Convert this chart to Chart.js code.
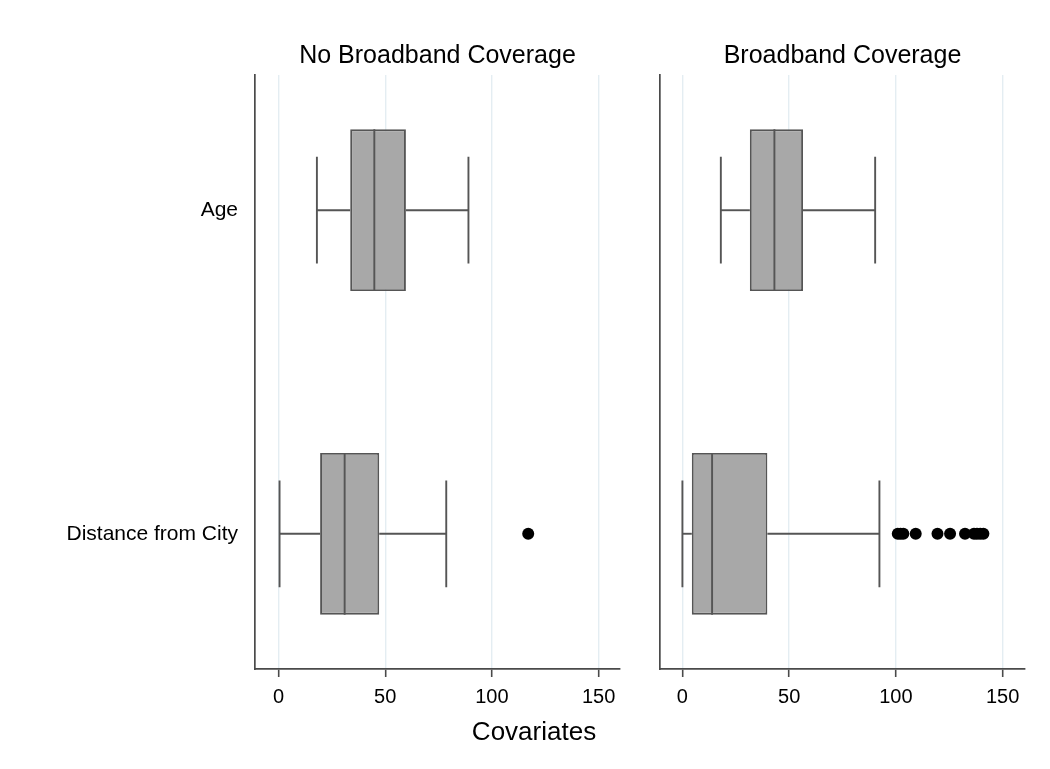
<!DOCTYPE html>
<html>
<head>
<meta charset="utf-8">
<script src="https://cdn.jsdelivr.net/npm/chart.js@4.4.1/dist/chart.umd.min.js"></script>
<style>
    html, body { margin: 0; padding: 0; background: #fff; }
    #wrap { position: relative; width: 1050px; height: 769px; overflow: hidden; }
    #leftBox { position: absolute; left: 0; top: 0; width: 630px; height: 769px; }
    #rightBox { position: absolute; left: 630px; top: 0; width: 420px; height: 769px; }
    #xTitle {
        position: absolute; left: 434px; width: 200px; top: 716px;
        text-align: center; line-height: 30px; color: #000;
        font: 26px 'Liberation Sans', Arial, sans-serif;
    }
</style>
</head>
<body>
<div id="wrap">
    <div id="leftBox"><canvas id="leftChart"></canvas></div>
    <div id="rightBox"><canvas id="rightChart"></canvas></div>
    <div id="xTitle">Covariates</div>
</div>
<script>
const FONT = "'Liberation Sans', Arial, sans-serif";
const LINE_COLOR = '#555555';
const AXIS_COLOR = '#4a4a4a';

// Categories and panels
const categories = ['Age', 'Distance from City'];
const xTicks = [0, 50, 100, 150];

// No Broadband Coverage
const noBbMin = [18, 0.5];
const noBbQ1 = [33.6, 19.5];
const noBbMedian = [44.9, 31];
const noBbQ3 = [59.7, 47.2];
const noBbMax = [89, 78.6];
const noBbOutliers = [[], [117]];

// Broadband Coverage
const bbMin = [18, 0];
const bbQ1 = [31.6, 4.4];
const bbMedian = [43.1, 13.9];
const bbQ3 = [56.5, 39.8];
const bbMax = [90.3, 92.3];
const bbOutliers = [[], [100.9, 102.2, 103.5, 109.3, 119.5, 125.4, 132.4, 136.6, 138, 139.5, 141]];

// One straight segment, drawn as a line dataset
function segment(x1, y1, x2, y2) {
    return {
        type: 'line',
        data: [{ x: x1, y: y1 }, { x: x2, y: y2 }],
        borderColor: LINE_COLOR,
        borderWidth: 1.9,
        pointRadius: 0,
        fill: false,
        order: 1,
    };
}

function makePanel(canvasId, title, mins, q1s, medians, q3s, maxs, outliers, xMin, xMax, showLabels, yWidth, padRight) {
    const datasets = [];

    // Boxes (q1 -> q3)
    datasets.push({
        type: 'bar',
        indexAxis: 'y',
        data: categories.map((c, i) => ({ x: [q1s[i], q3s[i]], y: i })),
        backgroundColor: '#a8a8a8',
        borderColor: LINE_COLOR,
        borderWidth: 1.9,
        borderSkipped: false,
        categoryPercentage: 1,
        barPercentage: 0.5,
        order: 3,
    });

    // Whiskers, caps and medians
    categories.forEach((c, i) => {
        datasets.push(segment(mins[i], i, q1s[i], i));
        datasets.push(segment(q3s[i], i, maxs[i], i));
        datasets.push(segment(mins[i], i - 0.165, mins[i], i + 0.165));
        datasets.push(segment(maxs[i], i - 0.165, maxs[i], i + 0.165));
        datasets.push(segment(medians[i], i - 0.25, medians[i], i + 0.25));
    });

    // Outside values
    datasets.push({
        type: 'scatter',
        data: outliers.flatMap((vals, i) => vals.map(v => ({ x: v, y: i }))),
        backgroundColor: '#000',
        borderWidth: 0,
        pointRadius: 6,
        order: 0,
    });

    const ctx = document.getElementById(canvasId).getContext('2d');
    new Chart(ctx, {
        type: 'bar',
        data: { datasets: datasets },
        options: {
            responsive: true,
            maintainAspectRatio: false,
            animation: false,
            layout: { padding: { left: 0, right: padRight, top: 0, bottom: 0 } },
            plugins: {
                legend: { display: false },
                tooltip: { enabled: false },
                title: {
                    display: true,
                    text: title,
                    fullSize: false,
                    color: '#000',
                    font: { size: 25, family: FONT, weight: 'normal', lineHeight: 1.2 },
                    padding: { top: 41, bottom: 4 },
                },
            },
            scales: {
                x: {
                    type: 'linear',
                    offset: false,
                    min: xMin,
                    max: xMax,
                    afterBuildTicks: s => { s.ticks = xTicks.map(v => ({ value: v })); },
                    afterFit: s => { s.height = 100; },
                    ticks: {
                        color: '#000',
                        font: { size: 20, family: FONT },
                        padding: 8,
                        maxRotation: 0,
                    },
                    grid: {
                        offset: false,
                        color: '#e4edf2',
                        lineWidth: 1.4,
                        tickLength: 8,
                        tickColor: AXIS_COLOR,
                        tickWidth: 1.6,
                    },
                    border: { color: AXIS_COLOR, width: 1.7 },
                },
                y: {
                    type: 'linear',
                    offset: false,
                    reverse: true,
                    min: -0.418,
                    max: 1.418,
                    afterBuildTicks: s => { s.ticks = categories.map((c, i) => ({ value: i })); },
                    afterFit: s => { s.width = yWidth; },
                    ticks: {
                        display: showLabels,
                        color: '#000',
                        font: { size: 21, family: FONT },
                        padding: 9,
                        callback: v => categories[v],
                    },
                    grid: { display: false, offset: false },
                    border: { color: AXIS_COLOR, width: 1.7 },
                },
            },
        },
    });
}

makePanel('leftChart', 'No Broadband Coverage', noBbMin, noBbQ1, noBbMedian, noBbQ3, noBbMax, noBbOutliers, -11, 160, true, 255, 10);
makePanel('rightChart', 'Broadband Coverage', bbMin, bbQ1, bbMedian, bbQ3, bbMax, bbOutliers, -10.5, 160.5, false, 30, 25);
</script>
</body>
</html>
